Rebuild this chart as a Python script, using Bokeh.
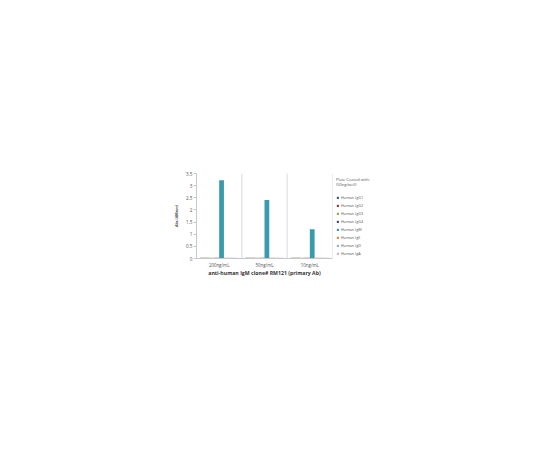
from bokeh.plotting import figure
from bokeh.models import FactorRange, Legend, LegendItem, Span, ColumnDataSource
from bokeh.transform import dodge
from bokeh.embed import file_html
from bokeh.resources import INLINE

categories = ["200ng/mL", "50ng/mL", "10ng/mL"]
series = ["Human IgG1", "Human IgG2", "Human IgG3", "Human IgG4",
          "Human IgM", "Human IgE", "Human IgD", "Human IgA"]
colors = ["#2b6f80", "#a33b3b", "#98ab5a", "#574a78",
          "#3a9aab", "#e8893a", "#8fb3d9", "#c9b3d6"]
igg1 = [0.03, 0.03, 0.03]
igg2 = [0.03, 0.03, 0.03]
igg3 = [0.03, 0.03, 0.03]
igg4 = [0.03, 0.03, 0.03]
igm = [3.22, 2.41, 1.20]
ige = [0.03, 0.03, 0.03]
igd = [0.03, 0.03, 0.03]
iga = [0.03, 0.03, 0.03]
values = [igg1, igg2, igg3, igg4, igm, ige, igd, iga]
y_ticks = [0, 0.5, 1, 1.5, 2, 2.5, 3, 3.5]

FONT = "Open Sans"

p = figure(x_range=FactorRange(*categories), y_range=(0, 3.5),
           frame_width=136, frame_height=85, output_backend="svg", toolbar_location=None,
           min_border_left=196, min_border_right=100, min_border_top=173,
           min_border_bottom=150)
p.outline_line_color = None
p.background_fill_color = "white"
p.border_fill_color = "white"

src = ColumnDataSource(dict(cat=categories, **{f"s{i}": v for i, v in enumerate(values)}))
n = len(series)
bw = 1.0 / (n + 1.5)
items = []
for i, (name, col) in enumerate(zip(series, colors)):
    r = p.vbar(x=dodge("cat", (i - (n - 1) / 2) * bw, range=p.x_range), top=f"s{i}",
               width=bw, source=src, color=col, line_color=None)
    items.append(LegendItem(label=name, renderers=[r]))

p.xgrid.grid_line_color = None
p.ygrid.grid_line_color = None
for k in range(1, len(categories) + 1):
    p.add_layout(Span(location=k, dimension="height", line_color="#d0d0d0", line_width=0.8))

p.yaxis.ticker = y_ticks
p.yaxis.major_label_overrides = {0: "0", 1: "1", 2: "2", 3: "3"}
p.yaxis.axis_line_color = "#c8c8c8"
p.yaxis.major_tick_line_color = "#c8c8c8"
p.yaxis.major_tick_out = 3
p.yaxis.major_tick_in = 0
p.yaxis.minor_tick_line_color = None
p.yaxis.major_label_text_font = FONT
p.yaxis.major_label_text_font_size = "4.6px"
p.yaxis.major_label_text_color = "#555555"
p.yaxis.major_label_standoff = 1
p.yaxis.axis_label = "Abs (405nm)"
p.yaxis.axis_label_text_font = FONT
p.yaxis.axis_label_text_font_size = "3.6px"
p.yaxis.axis_label_text_font_style = "bold"
p.yaxis.axis_label_text_color = "#444444"
p.yaxis.axis_label_standoff = 4

p.xaxis.axis_line_color = "#c8c8c8"
p.xaxis.major_tick_line_color = None
p.xaxis.major_tick_out = 0
p.xaxis.major_tick_in = 0
p.xaxis.major_label_text_font = FONT
p.xaxis.major_label_text_font_size = "4.4px"
p.xaxis.major_label_text_color = "#555555"
p.xaxis.major_label_standoff = 3
p.xaxis.axis_label = "anti-human IgM clone# RM121 (primary Ab)"
p.xaxis.axis_label_text_font = FONT
p.xaxis.axis_label_text_font_size = "5.2px"
p.xaxis.axis_label_text_font_style = "bold"
p.xaxis.axis_label_text_color = "#333333"
p.xaxis.axis_label_standoff = -2

legend = Legend(items=items, location="top_left", orientation="vertical",
                title="Plate Coated with:\n(50ng/well)")
legend.title_text_font = FONT
legend.title_text_font_size = "4px"
legend.title_text_font_style = "normal"
legend.title_text_color = "#555555"
legend.title_standoff = 8
legend.label_text_font = FONT
legend.label_text_font_size = "3.8px"
legend.label_text_color = "#555555"
legend.glyph_width = 3
legend.glyph_height = 3
legend.label_height = 5
legend.label_standoff = 2
legend.spacing = 3
legend.padding = 2
legend.margin = 4
legend.border_line_color = None
legend.background_fill_alpha = 0
p.add_layout(legend, "right")

open("out.html", "w").write(file_html(p, INLINE))
